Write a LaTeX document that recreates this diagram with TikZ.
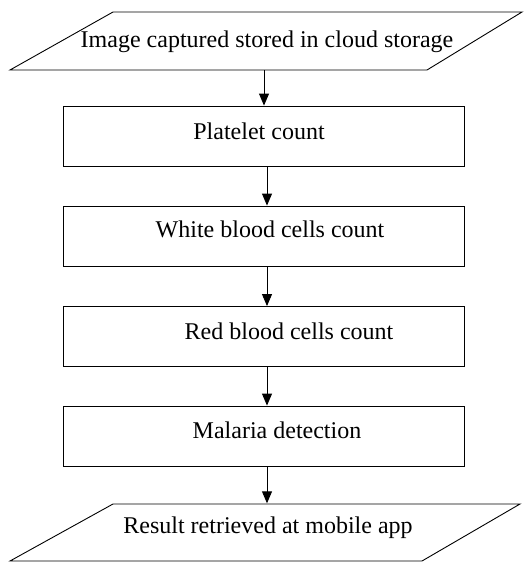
\documentclass[tikz,border=0pt]{standalone}
\usepackage{fontspec}
\setmainfont{Liberation Serif}
\usetikzlibrary{arrows.meta}
\begin{document}
\begin{tikzpicture}[x=1pt,y=-1pt,
  edge/.style={line width=0.9pt},
  flowbox/.style={draw,line width=0.9pt,rectangle,minimum width=401pt,minimum height=60pt,inner sep=0pt},
  io/.style={inner sep=0pt,minimum width=310pt,minimum height=58pt},
  label/.style={anchor=base,inner sep=0pt,font=\fontsize{24}{28}\selectfont},
  arr/.style={line width=0.9pt,-{Triangle[length=12pt,width=10pt]}}]
  \useasboundingbox (0,0) rectangle (523,562);
  % input / output parallelograms (frame nodes + outlines)
  \node[io] (in) at (266.5,41) {};
  \draw[edge] (113,12) -- (522,12) -- (427,70) -- (10,70) -- cycle;
  \node[io] (out) at (266,532.5) {};
  \draw[edge] (113,504) -- (520,504) -- (422,561) -- (10,561) -- cycle;
  % process boxes
  \node[flowbox] (b1) at (263.5,136) {};
  \node[flowbox] (b2) at (263.5,236) {};
  \node[flowbox] (b3) at (263.5,336.5) {};
  \node[flowbox] (b4) at (263.5,436) {};
  % texts
  \node[label] (tin) at (267,47) {Image captured stored in cloud storage};
  \node[label] (t1) at (259,139) {Platelet count};
  \node[label] (t2) at (270,237) {White blood cells count};
  \node[label] (t3) at (289,339) {Red blood cells count};
  \node[label] (t4) at (277,438) {Malaria detection};
  \node[label] (tout) at (268,533) {Result retrieved at mobile app};
  % connectors
  \coordinate (ax0) at (264,0);
  \coordinate (ax) at (267,0);
  \draw[arr] (in.south -| ax0) -- (b1.north -| ax0);
  \draw[arr] (b1.south -| ax) -- (b2.north -| ax);
  \draw[arr] (b2.south -| ax) -- (b3.north -| ax);
  \draw[arr] (b3.south -| ax) -- (b4.north -| ax);
  \draw[arr] (b4.south -| ax) -- (out.north -| ax);
\end{tikzpicture}
\end{document}
